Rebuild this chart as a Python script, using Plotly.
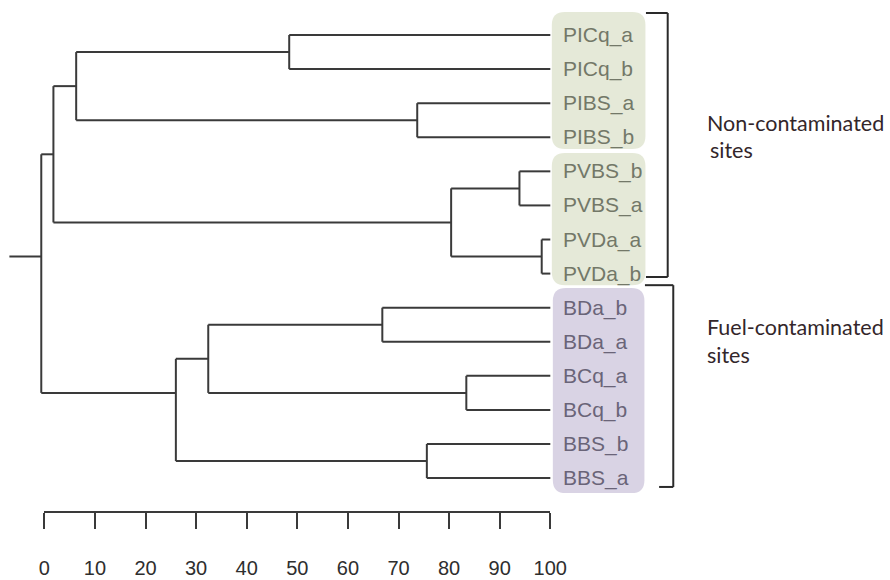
import plotly.graph_objects as go

# ---------------- data ----------------
leaves = ["PICq_a", "PICq_b", "PIBS_a", "PIBS_b", "PVBS_b", "PVBS_a", "PVDa_a", "PVDa_b",
          "BDa_b", "BDa_a", "BCq_a", "BCq_b", "BBS_b", "BBS_a"]
leaf_group = ["non"] * 8 + ["fuel"] * 6

# merges: (left child, right child, similarity height); children are leaf names or merge ids
merge_ids = ["m1", "m2", "m3", "m4", "m5", "m6", "m7", "m8", "m9", "m10", "m11", "m12", "root"]
merge_left = ["PICq_a", "PIBS_a", "m1", "PVBS_b", "PVDa_a", "m4", "m3", "BDa_b", "BCq_a", "m8", "BBS_b", "m10", "m7"]
merge_right = ["PICq_b", "PIBS_b", "m2", "PVBS_a", "PVDa_b", "m5", "m6", "BDa_a", "BCq_b", "m9", "BBS_a", "m11", "m12"]
merge_height = [48.4, 73.7, 6.3, 93.9, 98.3, 80.4, 1.8, 66.8, 83.4, 32.4, 75.6, 26.0, -0.6]
root_stub = -6.9
leaf_height = 100

scale_ticks = [0, 10, 20, 30, 40, 50, 60, 70, 80, 90, 100]

group_labels = ["Non-contaminated", "sites", "Fuel-contaminated", "sites"]

# ---------------- geometry from tree ----------------
pos = {}      # node -> (x, y)
members = {}  # node -> list of leaf indices
for i, name in enumerate(leaves):
    pos[name] = (leaf_height, i)
    members[name] = [i]

xs, ys = [], []
for mid, l, r, h in zip(merge_ids, merge_left, merge_right, merge_height):
    mem = members[l] + members[r]
    members[mid] = mem
    yc = sum(mem) / len(mem)
    pos[mid] = (h, yc)
    for c in (l, r):
        cx, cy = pos[c]
        xs += [h, cx, None]
        ys += [cy, cy, None]
    xs += [h, h, None]
    ys += [pos[l][1], pos[r][1], None]

rx, ry = pos["root"]
xs += [root_stub, rx, None]
ys += [ry, ry, None]

LINE = "#3a3a3a"

fig = go.Figure()
fig.add_trace(go.Scatter(x=xs, y=ys, mode="lines",
                         line=dict(color=LINE, width=2), hoverinfo="skip",
                         showlegend=False))

# invisible trace to carry the scale axis
fig.add_trace(go.Scatter(x=[0, 100], y=[14, 14], xaxis="x2", yaxis="y",
                         mode="markers", marker=dict(opacity=0), hoverinfo="skip",
                         showlegend=False))


def rounded(x0, x1, y0, y1, rx, ry):
    return (f"M {x0+rx},{y0} L {x1-rx},{y0} Q {x1},{y0} {x1},{y0+ry} "
            f"L {x1},{y1-ry} Q {x1},{y1} {x1-rx},{y1} "
            f"L {x0+rx},{y1} Q {x0},{y1} {x0},{y1-ry} "
            f"L {x0},{y0+ry} Q {x0},{y0} {x0+rx},{y0} Z")


GREEN = "#e5e9d8"
PURPLE = "#d9d3e4"
boxes = [
    (100.3, 118.8, -0.675, 3.345, GREEN),
    (100.3, 118.8, 3.46, 7.34, GREEN),
    (100.5, 118.6, 7.42, 13.44, PURPLE),
]
for x0, x1, y0, y1, col in boxes:
    fig.add_shape(type="path", path=rounded(x0, x1, y0, y1, 2.6, 0.38),
                  xref="x", yref="y", fillcolor=col, line=dict(width=0), layer="below")

# brackets
brk = dict(color="#2a2a2a", width=2)
for (xa, xb, ya) in [(118.9, 123.2, -0.645), (118.9, 123.2, 7.1)]:
    fig.add_shape(type="line", x0=xa, x1=xb, y0=ya, y1=ya, xref="x", yref="y", line=brk)
fig.add_shape(type="line", x0=123.2, x1=123.2, y0=-0.645, y1=7.1, xref="x", yref="y", line=brk)
for (xa, xb, ya) in [(118.7, 124.3, 7.34), (121.5, 124.3, 13.26)]:
    fig.add_shape(type="line", x0=xa, x1=xb, y0=ya, y1=ya, xref="x", yref="y", line=brk)
fig.add_shape(type="line", x0=124.3, x1=124.3, y0=7.34, y1=13.26, xref="x", yref="y", line=brk)

# leaf labels
for i, (name, g) in enumerate(zip(leaves, leaf_group)):
    fig.add_annotation(x=leaf_height, y=i, text=name, xref="x", yref="y",
                       xanchor="left", yanchor="middle", xshift=11, showarrow=False,
                       font=dict(family="Liberation Sans, Arial", size=21,
                                 color="#737868" if g == "non" else "#6a6478"))

# group labels
grp_pos = [(130.6, 2.58), (131.1, 3.37), (130.6, 8.57), (130.6, 9.39)]
for t, (gx, gy) in zip(group_labels, grp_pos):
    fig.add_annotation(x=gx, y=gy, text=t, xref="x", yref="y", xanchor="left",
                       yanchor="middle", showarrow=False,
                       font=dict(family="Lato, Carlito, Calibri", size=21.5, color="#33262a"))

fig.update_layout(
    template="none",
    width=890, height=580,
    margin=dict(l=0, r=0, t=0, b=0, pad=0, autoexpand=False),
    paper_bgcolor="white", plot_bgcolor="rgba(0,0,0,0)",
    showlegend=False,
    xaxis=dict(range=[-8.755, 167.13], visible=False, fixedrange=True, automargin=False),
    yaxis=dict(range=[15.99, -1.027], visible=False, fixedrange=True, automargin=False),
    xaxis2=dict(domain=[44.3 / 890, 550.3 / 890], range=[0, 100], anchor="free",
                position=1 - 512 / 580, showline=True, linecolor=LINE, linewidth=2,
                ticks="outside", ticklen=16, tickwidth=2, tickcolor=LINE,
                tickvals=scale_ticks, ticktext=[str(t) for t in scale_ticks],
                showgrid=False, zeroline=False, ticklabelstandoff=22, automargin=False,
                fixedrange=True,
                tickfont=dict(family="Liberation Sans, Arial", size=20, color="#2e2e2e")),
)

fig.write_html("out.html", config={"displayModeBar": False},
               post_script="document.body.style.margin='0';")
